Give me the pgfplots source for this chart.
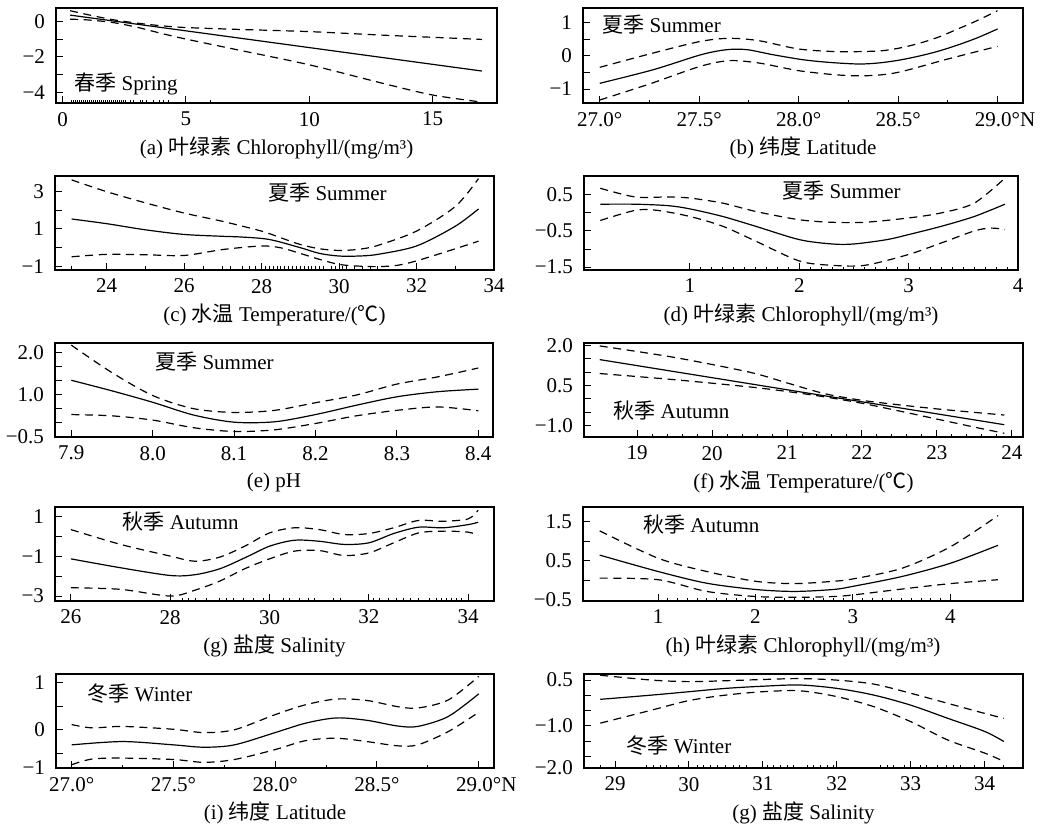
\documentclass[border=0pt]{standalone}
\usepackage{fontspec}
\setmainfont{Liberation Serif}
\newfontfamily\cjk{Noto Sans CJK SC}
\usepackage{pgfplots}
\pgfplotsset{compat=1.18}
\newcommand{\fs}{\fontsize{10.5}{12}\selectfont}
\tikzset{season/.style={anchor=west, font=\fs, inner sep=0pt}}
\pgfplotsset{
 gam/.style={scale only axis, anchor=north west,
  axis line style={line width=0.55pt},
  tick align=inside, major tick length=3.5pt, minor tick length=1.75pt,
  tick style={black, line width=0.5pt},
  xtick pos=left, ytick pos=left,
  font=\fs, ticklabel style={font=\fs},
  xticklabel style={yshift=-1pt}, yticklabel style={xshift=-2pt},
  xlabel style={at={(axis description cs:0.5,0)}, anchor=center, yshift=-22.5pt, font=\fs},
  extra x tick style={grid=none, major tick length=1.75pt},
  extra x tick labels={}},
 fit/.style={black, line width=0.6pt, smooth, tension=0.5, mark=none},
 ci/.style={black, line width=0.6pt, dash pattern=on 4pt off 2.8pt, smooth, tension=0.5, mark=none},
}
\begin{document}
\begin{tikzpicture}
\path[use as bounding box] (0,0) rectangle (521.5pt,-415pt);

% (a)
\begin{axis}[gam, at={(28pt,-4pt)}, width=220.5pt, height=47.5pt,
  xmin=-0.27, xmax=17.61, ymin=-4.6, ymax=0.75,
  xtick={0,5,10,15}, xticklabels={0,5,10,15},
  ytick={-4,-3,-2,-1,0}, yticklabels={−4,,−2,,0},
  extra x ticks={0.37,0.45,0.53,0.61,0.69,0.77,0.85,0.93,1.01,1.09,1.17,1.25,1.33,1.41,1.49,1.57,1.65,1.73,1.81,1.89,1.97,2.05,2.13,2.21,2.29,2.37,2.45,2.53,2.74,2.87,3.14,3.25,3.41,3.68,3.92,4.09,4.29,6.0},
  xlabel={(a) {\cjk 叶绿素} Chlorophyll/(mg/m³)}]
\addplot[fit, smooth=false] coordinates {(0.3,0.35) (17,-2.8)};
\addplot[ci] coordinates {(0.3,0.6) (1,0.38) (2,0.1) (3,-0.1) (4,-0.25) (5,-0.35) (7,-0.45) (10,-0.58) (13,-0.78) (15,-0.9) (17,-1.02)};
\addplot[ci] coordinates {(0.3,0.12) (1,0.08) (2,-0.06) (3,-0.33) (4,-0.68) (5,-1.0) (7,-1.58) (10,-2.45) (13,-3.5) (15,-4.15) (17,-4.55)};
\node[season] at (rel axis cs:0.041,0.20) {{\cjk 春季} Spring};
\end{axis}

% (b)
\begin{axis}[gam, at={(291.5pt,-4pt)}, width=220pt, height=47.5pt,
  xmin=26.916, xmax=29.128, ymin=-1.42, ymax=1.43,
  xtick={27,27.5,28,28.5,29}, xticklabels={27.0°,27.5°,28.0°,28.5°,29.0°\rlap{N}}, minor x tick num=1,
  ytick={-1,-0.5,0,0.5,1}, yticklabels={−1,,0,,1},
  xlabel={(b) {\cjk 纬度} Latitude}]
\addplot[fit] coordinates {(27.0,-0.83) (27.27,-0.42) (27.51,0.03) (27.64,0.18) (27.74,0.18) (27.87,0.03) (28.02,-0.12) (28.15,-0.2) (28.3,-0.25) (28.4,-0.22) (28.5,-0.14) (28.6,-0.02) (28.7,0.13) (28.8,0.32) (28.9,0.54) (29.0,0.8)};
\addplot[ci] coordinates {(27.0,-0.35) (27.25,0.05) (27.5,0.42) (27.65,0.52) (27.8,0.45) (28.0,0.2) (28.2,0.12) (28.4,0.14) (28.5,0.22) (28.6,0.36) (28.7,0.55) (28.8,0.8) (28.9,1.06) (29.0,1.35)};
\addplot[ci] coordinates {(27.0,-1.33) (27.25,-0.85) (27.5,-0.33) (27.65,-0.15) (27.8,-0.22) (28.0,-0.45) (28.2,-0.58) (28.35,-0.6) (28.5,-0.5) (28.75,-0.1) (29.0,0.28)};
\node[season] at (rel axis cs:0.043,0.83) {{\cjk 夏季} Summer};
\end{axis}

% (c)
\begin{axis}[gam, at={(27.5pt,-88pt)}, width=219.5pt, height=47pt,
  xmin=22.67, xmax=34, ymin=-1.21, ymax=3.84,
  xtick={24,26,28,30,32,34}, xticklabels={24,26,28,30,32,34}, minor x tick num=1,
  ytick={-1,0,1,2,3}, yticklabels={−1,,1,,3},
  extra x ticks={23.1,26.5,27.2,27.5,27.7,27.85,28.1,28.2,28.3,28.4,28.5,28.6,28.7,28.8,28.9,29.1,29.2,29.3,29.4,29.5,29.6,29.8,29.9,30.1,30.2,30.4,30.6,30.8},
  xlabel={(c) {\cjk 水温} Temperature/({\cjk ℃})}]
\addplot[fit] coordinates {(23.1,1.53) (24,1.28) (25,0.95) (26,0.7) (27,0.6) (27.5,0.56) (28.2,0.43) (29,-0.01) (29.5,-0.32) (30,-0.46) (30.5,-0.46) (31,-0.37) (32,0.08) (33,1.14) (33.6,2.07)};
\addplot[ci] coordinates {(23.1,3.63) (24,3.0) (25,2.4) (26,1.85) (27,1.4) (28,0.88) (28.5,0.52) (29,0.16) (29.5,-0.07) (30,-0.16) (30.5,-0.1) (31,0.11) (32,0.88) (33,2.2) (33.6,3.7)};
\addplot[ci] coordinates {(23.1,-0.5) (24,-0.37) (25,-0.39) (26,-0.43) (27,-0.11) (28,0.08) (28.5,-0.02) (29,-0.32) (29.5,-0.64) (30,-0.91) (30.5,-1.0) (31,-1.03) (31.5,-0.96) (32,-0.72) (33,-0.07) (33.6,0.34)};
\node[season] at (rel axis cs:0.485,0.82) {{\cjk 夏季} Summer};
\end{axis}

% (d)
\begin{axis}[gam, at={(292pt,-88pt)}, width=217pt, height=47pt,
  xmin=0.031, xmax=4, ymin=-1.58, ymax=1.02,
  xtick={1,2,3,4}, xticklabels={1,2,3,4}, minor x tick num=9,
  ytick={-1.5,-1,-0.5,0,0.5,1}, yticklabels={−1.5,,−0.5,,0.5,},
  xlabel={(d) {\cjk 叶绿素} Chlorophyll/(mg/m³)}]
\addplot[fit] coordinates {(0.18,0.24) (0.5,0.24) (0.8,0.2) (1.0,0.11) (1.3,-0.1) (1.6,-0.37) (2.0,-0.74) (2.3,-0.86) (2.5,-0.86) (2.8,-0.74) (3.0,-0.6) (3.3,-0.37) (3.6,-0.1) (3.88,0.24)};
\addplot[ci] coordinates {(0.18,0.68) (0.5,0.44) (0.8,0.44) (1.0,0.41) (1.3,0.27) (1.6,0.04) (2.0,-0.19) (2.3,-0.26) (2.6,-0.26) (3.0,-0.14) (3.3,0.0) (3.6,0.27) (3.88,0.96)};
\addplot[ci] coordinates {(0.18,-0.21) (0.5,0.07) (0.7,0.07) (1.0,-0.1) (1.3,-0.37) (1.6,-0.78) (2.0,-1.33) (2.3,-1.45) (2.6,-1.45) (3.0,-1.15) (3.3,-0.83) (3.6,-0.5) (3.75,-0.42) (3.88,-0.46)};
\node[season] at (rel axis cs:0.456,0.84) {{\cjk 夏季} Summer};
\end{axis}

% (e)
\begin{axis}[gam, at={(27.5pt,-171.5pt)}, width=219pt, height=47pt,
  xmin=7.88, xmax=8.418, ymin=0, ymax=2.22,
  xtick={7.9,8.0,8.1,8.2,8.3,8.4}, xticklabels={7.9,8.0,8.1,8.2,8.3,8.4},
  ytick={0,0.333,0.667,1,1.333,1.667,2}, yticklabels={−0.5,,,1.0,,,2.0},
  xlabel={(e) pH}]
\addplot[fit] coordinates {(7.9,1.34) (7.95,1.09) (8.0,0.82) (8.05,0.52) (8.1,0.35) (8.15,0.36) (8.2,0.53) (8.25,0.75) (8.3,0.95) (8.35,1.07) (8.4,1.13)};
\addplot[ci] coordinates {(7.9,2.17) (7.95,1.52) (8.0,0.98) (8.05,0.67) (8.1,0.58) (8.15,0.63) (8.2,0.81) (8.25,0.99) (8.3,1.25) (8.35,1.42) (8.4,1.63)};
\addplot[ci] coordinates {(7.9,0.53) (7.95,0.5) (8.0,0.4) (8.05,0.22) (8.1,0.13) (8.15,0.17) (8.2,0.32) (8.25,0.5) (8.3,0.63) (8.35,0.71) (8.4,0.62)};
\node[season] at (rel axis cs:0.228,0.80) {{\cjk 夏季} Summer};
\end{axis}

% (f)
\begin{axis}[gam, at={(292pt,-171.5pt)}, width=219.5pt, height=47pt,
  xmin=18.29, xmax=24.15, ymin=-1.42, ymax=2.09,
  xtick={19,20,21,22,23,24}, xticklabels={19,20,21,22,23,24}, minor x tick num=4,
  ytick={-1,-0.5,0,0.5,1,1.5,2}, yticklabels={−1.0,,,0.5,,,2.0},
  xlabel={(f) {\cjk 水温} Temperature/({\cjk ℃})}]
\addplot[fit, smooth=false] coordinates {(18.5,1.47) (23.9,-0.96)};
\addplot[ci] coordinates {(18.5,1.98) (19.5,1.55) (20.5,1.0) (21.0,0.6) (21.5,0.2) (22.0,-0.05) (22.5,-0.22) (23.0,-0.37) (23.5,-0.5) (23.9,-0.6)};
\addplot[ci] coordinates {(18.5,0.95) (19.5,0.72) (20.5,0.45) (21.0,0.28) (21.5,0.08) (22.0,-0.16) (22.5,-0.45) (23.0,-0.75) (23.5,-1.05) (23.9,-1.28)};
\node[season] at (rel axis cs:0.066,0.28) {{\cjk 秋季} Autumn};
\end{axis}

% (g)
\begin{axis}[gam, at={(27.5pt,-253.5pt)}, width=219.5pt, height=47pt,
  xmin=25.68, xmax=34.52, ymin=-3.25, ymax=1.5,
  xtick={26,28,30,32,34}, xticklabels={26,28,30,32,34},
  ytick={-3,-2,-1,0,1}, yticklabels={−3,,−1,,1},
  extra x ticks={28.25,28.36,28.5,28.73,29.0,29.13,29.27,29.47,29.67,29.87,30.28,30.41,30.61,30.78,30.91,31.28,31.42,32.09,32.22,32.39,32.56,32.69,32.83,32.99,33.23,33.36,33.46,33.56,33.66,33.77,33.87},
  xlabel={(g) {\cjk 盐度} Salinity}]
\addplot[fit] coordinates {(26,-1.12) (27,-1.57) (28,-1.96) (28.5,-1.92) (29,-1.62) (29.5,-1.07) (30,-0.48) (30.5,-0.18) (31,-0.23) (31.5,-0.39) (32,-0.31) (32.5,0.16) (33,0.48) (33.5,0.45) (34,0.61) (34.2,0.73)};
\addplot[ci] coordinates {(26,0.36) (27,-0.39) (28,-0.98) (28.5,-1.24) (29,-1.03) (29.5,-0.48) (30,0.19) (30.5,0.45) (31,0.36) (31.5,0.11) (32,0.16) (32.5,0.45) (33,0.82) (33.5,0.78) (34,0.9) (34.2,1.34)};
\addplot[ci] coordinates {(26,-2.58) (27,-2.66) (28,-3.0) (28.5,-2.7) (29,-2.24) (29.5,-1.62) (30,-1.12) (30.5,-0.73) (31,-0.7) (31.5,-0.95) (32,-0.82) (32.5,-0.31) (33,0.19) (33.5,0.28) (34,0.23) (34.2,0.06)};
\node[season] at (rel axis cs:0.153,0.85) {{\cjk 秋季} Autumn};
\end{axis}

% (h)
\begin{axis}[gam, at={(291.5pt,-253.5pt)}, width=220pt, height=47pt,
  xmin=0.229, xmax=4.747, ymin=-0.525, ymax=1.88,
  xtick={1,2,3,4}, xticklabels={1,2,3,4}, minor x tick num=9,
  ytick={-0.5,0,0.5,1,1.5}, yticklabels={−0.5,,0.5,,1.5},
  xlabel={(h) {\cjk 叶绿素} Chlorophyll/(mg/m³)}]
\addplot[fit] coordinates {(0.4,0.65) (1.0,0.23) (1.5,-0.07) (2.0,-0.23) (2.4,-0.28) (2.8,-0.23) (3.0,-0.15) (3.5,0.1) (4.0,0.44) (4.49,0.9)};
\addplot[ci] coordinates {(0.4,1.27) (1.0,0.57) (1.5,0.23) (2.0,-0.02) (2.4,-0.08) (2.8,-0.02) (3.0,0.04) (3.5,0.31) (4.0,0.86) (4.49,1.66)};
\addplot[ci] coordinates {(0.4,0.06) (1.0,0.02) (1.5,-0.28) (2.0,-0.41) (2.4,-0.43) (2.8,-0.41) (3.0,-0.37) (3.5,-0.22) (4.0,-0.08) (4.49,0.02)};
\node[season] at (rel axis cs:0.136,0.81) {{\cjk 秋季} Autumn};
\end{axis}

% (i)
\begin{axis}[gam, at={(28pt,-337pt)}, width=219pt, height=47pt,
  xmin=26.923, xmax=29.075, ymin=-0.81, ymax=1.18,
  xtick={27,27.5,28,28.5,29}, xticklabels={27.0°,27.5°,28.0°,28.5°,29.0°\rlap{N}}, minor x tick num=1,
  ytick={-0.81,-0.5,0,0.5,1}, yticklabels={−1,,0,,1},
  xlabel={(i) {\cjk 纬度} Latitude}]
\addplot[fit] coordinates {(27.0,-0.32) (27.25,-0.25) (27.5,-0.32) (27.65,-0.37) (27.8,-0.32) (28.0,-0.06) (28.15,0.14) (28.3,0.25) (28.45,0.2) (28.6,0.08) (28.7,0.07) (28.85,0.28) (29.0,0.76)};
\addplot[ci] coordinates {(27.0,0.11) (27.1,0.04) (27.25,0.07) (27.5,0.01) (27.65,-0.06) (27.8,0.0) (28.0,0.32) (28.15,0.53) (28.3,0.65) (28.45,0.62) (28.6,0.49) (28.7,0.46) (28.85,0.63) (29.0,1.13)};
\addplot[ci] coordinates {(27.0,-0.74) (27.1,-0.62) (27.25,-0.6) (27.5,-0.63) (27.65,-0.69) (27.8,-0.63) (28.0,-0.42) (28.15,-0.23) (28.3,-0.18) (28.45,-0.25) (28.6,-0.34) (28.7,-0.32) (28.85,-0.04) (29.0,0.37)};
\node[season] at (rel axis cs:0.071,0.79) {{\cjk 冬季} Winter};
\end{axis}

% (j)
\begin{axis}[gam, at={(292pt,-337pt)}, width=219.5pt, height=47pt,
  xmin=28.58, xmax=34.52, ymin=-2.38, ymax=0.7,
  xtick={29,30,31,32,33,34}, xticklabels={29,30,31,32,33,34},
  ytick={-2.38,-2,-1.5,-1,-0.5,0,0.5}, yticklabels={−2.0,,,−1.0,,,0.5},
  extra x ticks={28.8,29.43,29.52,29.61,29.7,29.86,30.11,30.2,30.29,30.38,30.49,30.6,30.69,30.78,31.06,31.15,31.24,31.33,31.42,31.6,31.69,31.78,31.87,31.96,32.59,32.68,32.77,32.91,33.13,33.22,33.36,33.49,33.58,33.67,33.86,34.26},
  xlabel={(g) {\cjk 盐度} Salinity}]
\addplot[fit] coordinates {(28.8,-0.13) (29.5,0.01) (30,0.12) (30.5,0.23) (31,0.3) (31.5,0.34) (32,0.23) (32.5,0.01) (33,-0.32) (33.5,-0.75) (34,-1.18) (34.26,-1.51)};
\addplot[ci] coordinates {(28.8,0.66) (29.5,0.5) (30,0.45) (30.5,0.48) (31,0.52) (31.5,0.55) (32,0.5) (32.5,0.37) (33,0.07) (33.5,-0.26) (34,-0.59) (34.26,-0.75)};
\addplot[ci] coordinates {(28.8,-0.91) (29.5,-0.48) (30,-0.17) (30.5,0.01) (31,0.12) (31.5,0.15) (32,-0.04) (32.5,-0.37) (33,-0.86) (33.5,-1.46) (34,-1.89) (34.26,-2.16)};
\node[season] at (rel axis cs:0.096,0.237) {{\cjk 冬季} Winter};
\end{axis}
\end{tikzpicture}
\end{document}
